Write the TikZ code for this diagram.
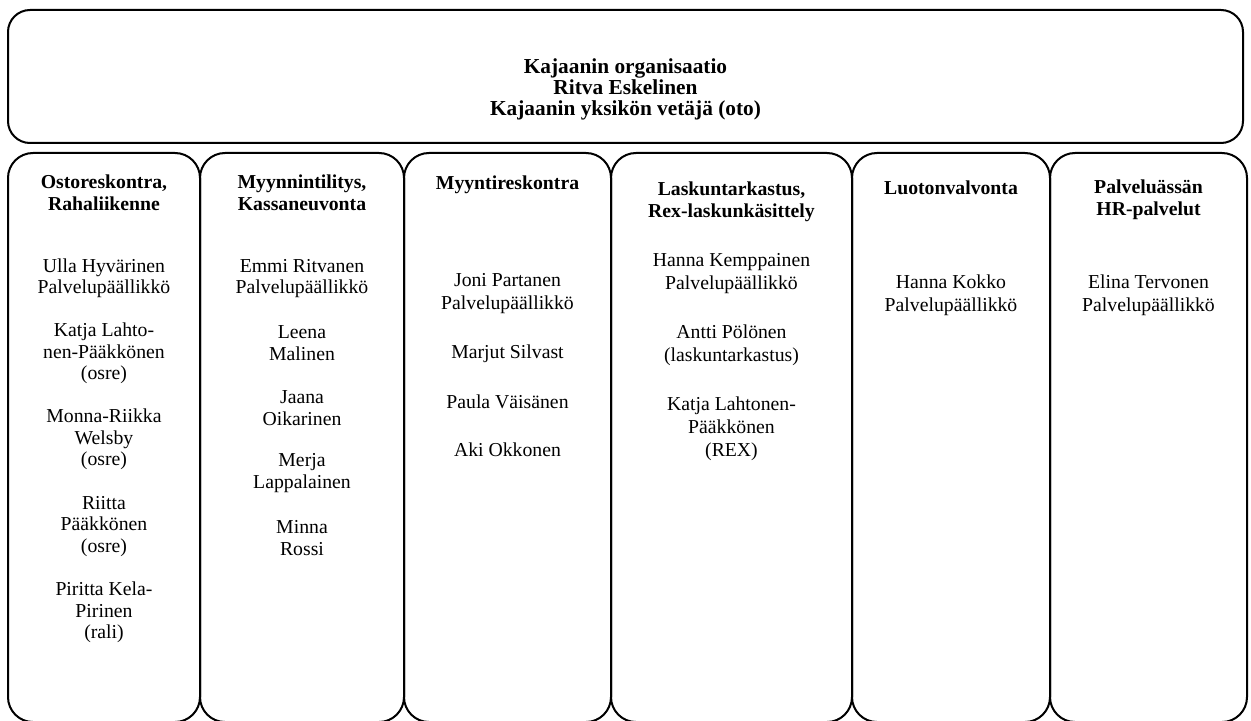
\documentclass[tikz,border=0pt]{standalone}
\usepackage{fontspec}
\setmainfont{Liberation Serif}
\begin{document}
\begin{tikzpicture}[x=0.75pt, y=-0.75pt]
\tikzset{ inner sep=0pt, outer sep=0pt,
  topbox/.style={line width=1.5pt, rounded corners=16.5pt},
  colbox/.style={line width=1.5pt, rounded corners=18.75pt},
  toptitle/.style={font=\bfseries\fontsize{16}{15.75}\selectfont, align=center},
  colhead/.style={font=\bfseries\fontsize{14.8}{16.5}\selectfont, align=center},
  pers/.style={font=\fontsize{14.8}{16.1}\selectfont, align=center},
  persw/.style={font=\fontsize{14.8}{17.25}\selectfont, align=center},
}

\useasboundingbox (0,0) rectangle (1251,720);
\clip (0,0) rectangle (1251,720);

%%% Laatikot

% Kajaanin organisaatio
\coordinate (TOP0) at (8,10);
\coordinate (TOP1) at (1243,143);
\draw[topbox] (TOP0) rectangle (TOP1);
\node[toptitle] (kaj) at (625.5,89) {Kajaanin organisaatio\\Ritva Eskelinen\\Kajaanin yksikön vetäjä (oto)};

% sarakkeet
\coordinate (C10) at (8,153);    \coordinate (C11) at (200,722);
\coordinate (C20) at (200,153);  \coordinate (C21) at (404,722);
\coordinate (C30) at (404,153);  \coordinate (C31) at (611,722);
\coordinate (C40) at (611,153);  \coordinate (C41) at (852,722);
\coordinate (C50) at (852,153);  \coordinate (C51) at (1050,722);
\coordinate (C60) at (1050,153); \coordinate (C61) at (1247,722);
\foreach \i in {1,...,6}
  \draw[colbox] (C\i0) rectangle (C\i1);

%%% Tekstit

% Ostoreskontra
\node[colhead] (osto) at (104,193) {Ostoreskontra,\\Rahaliikenne};
\node[pers] (ulla)    at (104,278)   {Ulla Hyvärinen\\Palvelupäällikkö};
\node[pers] (katja1)  at (104,353.5) {Katja Lahto-\\nen-Pääkkönen\\(osre)};
\node[pers] (monna)   at (104,439.5) {Monna-Riikka\\Welsby\\(osre)};
\node[pers] (riitta)  at (104,526.5) {Riitta\\Pääkkönen\\(osre)};
\node[pers] (piritta) at (104,612.5) {Piritta Kela-\\Pirinen\\(rali)};

% Myynnintilitys
\node[colhead] (myyt) at (302,193) {Myynnintilitys,\\Kassaneuvonta};
\node[pers] (emmi)  at (302,278.5) {Emmi Ritvanen\\Palvelupäällikkö};
\node[pers] (leena) at (302,343)   {Leena\\Malinen};
\node[pers] (jaana) at (302,408)   {Jaana\\Oikarinen};
\node[pers] (merja) at (302,473)   {Merja\\Lappalainen};
\node[pers] (minna) at (302,538)   {Minna\\Rossi};

% Myyntireskontra
\node[colhead] (myyr) at (507.5,185) {Myyntireskontra};
\node[persw] (joni)   at (507.5,293.5) {Joni Partanen\\Palvelupäällikkö};
\node[persw] (marjut) at (507.5,354)   {Marjut Silvast};
\node[persw] (paula)  at (507.5,402)   {Paula Väisänen};
\node[persw] (aki)    at (507.5,450)   {Aki Okkonen};

% Laskuntarkastus
\node[colhead] (lask) at (731.5,201.5) {Laskuntarkastus,\\Rex-laskunkäsittely};
\node[persw] (hannak) at (731.5,273.5) {Hanna Kemppainen\\Palvelupäällikkö};
\node[persw] (antti)  at (731.5,345.5) {Antti Pölönen\\(laskuntarkastus)};
\node[persw] (katja2) at (731.5,429)   {Katja Lahtonen-\\Pääkkönen\\(REX)};

% Luotonvalvonta
\node[colhead] (luot) at (951,188) {Luotonvalvonta};
\node[persw] (hanna) at (951,295.5) {Hanna Kokko\\Palvelupäällikkö};

% HR-palvelut
\node[colhead] (hr) at (1148.5,199.5) {Palveluässän\\HR-palvelut};
\node[persw] (elina) at (1148.5,295.5) {Elina Tervonen\\Palvelupäällikkö};

\end{tikzpicture}
\end{document}
